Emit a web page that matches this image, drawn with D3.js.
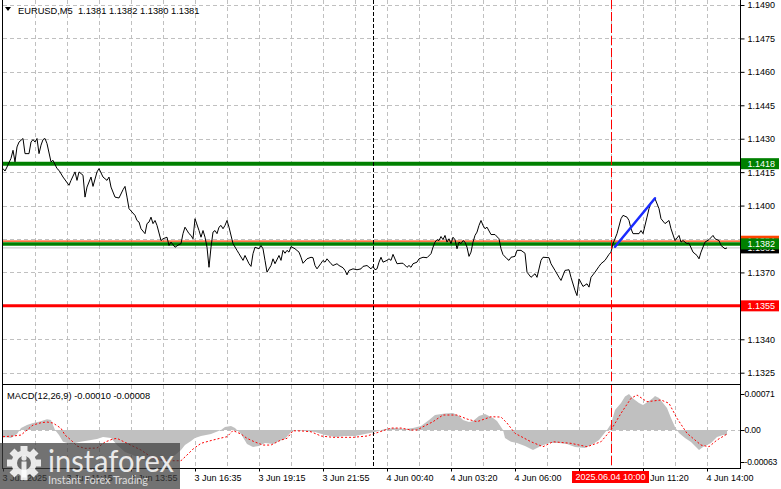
<!DOCTYPE html>
<html><head><meta charset="utf-8">
<script src="https://cdn.jsdelivr.net/npm/d3@7"></script>
<style>html,body{margin:0;padding:0;background:#fff;overflow:hidden}svg{display:block}</style>
</head><body>
<script>
// ---------------- DATA ----------------
const symbolTitle = "EURUSD,M5";
const ohlc = [1.1381, 1.1382, 1.1380, 1.1381];
const macdTitle = "MACD(12,26,9)";
const macdLast = [-0.00010, -0.00008];

const priceTicks = [1.1490,1.1475,1.1460,1.1445,1.1430,1.1415,1.1400,1.1385,1.1370,1.1355,1.1340,1.1325];
const timeTickBars = [0,32,64,96,128,160,192,224,256,288,320,352];
const timeLabels = ["3 Jun 2025","3 Jun 11:15","3 Jun 13:55","3 Jun 16:35","3 Jun 19:15","3 Jun 21:55","4 Jun 00:40","4 Jun 03:20","4 Jun 06:00","4 Jun 08:40","4 Jun 11:20","4 Jun 14:00"];
const macdTicks = [0.00071, 0, -0.00063];
const macdTickLabels = ["0.00071","0.00","-0.00063"];

const greenLevels = [1.14188, 1.13828];
const greenLabels = ["1.1418", "1.1382"];
const redLevel = 1.1355, redLabel = "1.1355";
const orangeLevel = 1.1384, orangeLabel = "1.1384";
const bidLevel = 1.1381, bidLabel = "1.1381";
const separatorBar = 185;
const eventBar = 304, eventLabel = "2025.06.04 10:00";
const trendBars = [306, 326];
const trendPrices = [1.13815, 1.14033];

// [bar index (5-minute bars from 3 Jun 08:35), close]
const closes = [[0,1.14166],[1,1.14155],[2,1.14173],[4,1.14212],[5,1.14248],[6,1.14196],[7,1.14263],[8,1.14285],[10,1.14301],[11,1.14233],[13,1.14233],[14,1.14285],[15,1.14296],[16,1.14285],[17,1.14301],[18,1.14233],[19,1.14271],[20,1.14296],[21,1.14301],[22,1.14278],[24,1.14196],[25,1.14203],[27,1.14166],[28,1.14158],[30,1.14128],[33,1.14091],[34,1.14113],[36,1.14151],[37,1.14113],[38,1.14151],[40,1.14136],[41,1.14038],[42,1.14083],[44,1.14128],[45,1.14086],[47,1.14151],[48,1.14166],[50,1.14128],[52,1.14113],[53,1.14128],[54,1.14083],[56,1.14038],[58,1.14034],[60,1.14071],[61,1.14086],[62,1.14038],[63,1.13986],[66,1.13956],[67,1.13933],[68,1.13926],[69,1.13896],[71,1.13874],[72,1.13919],[73,1.13926],[74,1.13948],[75,1.13919],[76,1.13933],[77,1.13911],[79,1.13843],[80,1.13851],[82,1.13858],[83,1.13821],[84,1.13836],[86,1.13813],[88,1.13825],[89,1.13829],[90,1.13874],[91,1.13903],[93,1.13874],[94,1.13866],[95,1.13851],[96,1.13941],[98,1.13888],[99,1.13858],[100,1.13888],[101,1.13858],[102,1.13813],[103,1.13723],[104,1.13813],[105,1.13881],[106,1.13888],[107,1.13874],[108,1.13903],[109,1.13911],[110,1.13896],[111,1.13911],[112,1.13933],[113,1.13903],[115,1.13829],[117,1.13799],[118,1.13784],[120,1.13754],[121,1.13776],[123,1.13739],[124,1.13727],[125,1.13784],[126,1.13813],[128,1.13806],[129,1.13821],[130,1.13806],[131,1.13754],[132,1.13701],[134,1.13731],[135,1.13761],[136,1.13739],[138,1.13776],[139,1.13754],[140,1.13799],[141,1.13786],[142,1.13799],[143,1.13791],[144,1.13816],[146,1.13806],[148,1.13791],[149,1.13768],[150,1.13741],[152,1.13761],[154,1.13768],[155,1.13766],[156,1.13731],[157,1.13716],[159,1.13741],[160,1.13754],[161,1.13746],[162,1.13761],[164,1.13739],[165,1.13731],[167,1.13739],[168,1.13731],[170,1.13721],[171,1.13709],[172,1.13689],[173,1.13709],[175,1.13716],[177,1.13712],[179,1.13716],[180,1.13727],[182,1.13731],[184,1.13716],[185,1.13727],[186,1.13712],[187,1.13716],[188,1.13746],[189,1.13768],[190,1.13746],[192,1.13754],[193,1.13761],[194,1.13754],[195,1.13781],[197,1.13739],[199,1.13741],[200,1.13741],[202,1.13723],[203,1.13731],[204,1.13723],[205,1.13739],[207,1.13746],[208,1.13761],[210,1.13768],[212,1.13766],[214,1.13784],[215,1.13813],[216,1.13836],[217,1.13847],[218,1.13843],[219,1.13861],[220,1.13847],[221,1.13866],[222,1.13836],[223,1.13851],[224,1.13829],[225,1.13858],[226,1.13847],[227,1.13806],[228,1.13836],[229,1.13829],[230,1.13843],[231,1.13836],[232,1.13813],[233,1.13772],[234,1.13791],[235,1.13836],[236,1.13866],[237,1.13881],[238,1.13911],[239,1.13933],[240,1.13911],[241,1.13896],[242,1.13903],[244,1.13870],[246,1.13870],[248,1.13851],[249,1.13806],[250,1.13780],[252,1.13761],[253,1.13754],[254,1.13768],[256,1.13772],[257,1.13799],[259,1.13799],[261,1.13786],[262,1.13701],[264,1.13678],[266,1.13694],[267,1.13678],[269,1.13754],[270,1.13768],[273,1.13766],[274,1.13739],[276,1.13709],[278,1.13678],[279,1.13664],[281,1.13709],[283,1.13712],[284,1.13678],[286,1.13619],[287,1.13596],[288,1.13671],[290,1.13637],[292,1.13649],[293,1.13634],[294,1.13678],[296,1.13701],[298,1.13727],[299,1.13739],[301,1.13754],[303,1.13781],[304,1.13791],[305,1.13829],[307,1.13874],[309,1.13941],[310,1.13956],[312,1.13948],[313,1.13933],[314,1.13896],[315,1.13874],[318,1.13874],[319,1.13888],[320,1.13874],[322,1.13948],[323,1.13986],[324,1.14016],[326,1.14031],[328,1.13986],[329,1.13941],[331,1.13919],[333,1.13933],[334,1.13896],[336,1.13843],[338,1.13866],[339,1.13836],[340,1.13843],[342,1.13829],[343,1.13831],[345,1.13791],[347,1.13776],[348,1.13761],[349,1.13791],[351,1.13836],[353,1.13847],[355,1.13866],[356,1.13851],[358,1.13843],[359,1.13821],[361,1.13806],[362,1.13810]];

// MACD main (histogram) [bar, value]
const macdMain = [[0,-0.000138],[4,-0.000158],[7,-0.000079],[9,0.000039],[12,0.000099],[15,0.000138],[18,0.000164],[22,0.000211],[24,0.000197],[26,0],[28,-0.000099],[30,-0.000231],[34,-0.000276],[38,-0.000237],[44,-0.000197],[47,-0.000177],[50,-0.000138],[54,-0.000158],[57,-0.000296],[61,-0.000434],[66,-0.000513],[71,-0.00060],[76,-0.00063],[81,-0.00060],[86,-0.000493],[89,-0.000394],[91,-0.000296],[94,-0.000217],[96,-0.000158],[99,-0.000118],[104,-0.000079],[109,0],[111,0.000059],[114,0.000079],[116,0.000039],[119,-0.000079],[122,-0.000276],[125,-0.000335],[128,-0.000316],[131,-0.000256],[135,-0.000276],[138,-0.000217],[141,-0.000177],[144,-0.000039],[147,0],[151,-0.000020],[156,-0.000039],[161,-0.000099],[166,-0.000138],[171,-0.000118],[176,-0.000118],[181,-0.000079],[186,-0.000039],[191,0.000020],[196,0.000039],[201,0.000020],[205,0.000039],[209,0.000079],[213,0.000197],[216,0.000296],[221,0.000325],[225,0.000335],[228,0.000276],[230,0.000197],[233,0.000158],[235,0.000177],[238,0.000276],[241,0.000316],[245,0.000237],[247,0.000177],[250,0],[251,-0.000158],[254,-0.000231],[257,-0.000256],[261,-0.000316],[265,-0.000394],[269,-0.000316],[273,-0.000256],[278,-0.000256],[282,-0.000276],[286,-0.000335],[291,-0.000355],[295,-0.000276],[298,-0.000197],[300,-0.000099],[302,0],[304,0.000118],[306,0.000394],[309,0.000532],[311,0.00066],[313,0.00071],[315,0.00062],[318,0.000532],[320,0.000493],[323,0.000572],[325,0.000631],[326,0.00067],[328,0.000631],[330,0.000532],[332,0.000434],[334,0.000237],[336,0.000059],[338,-0.000059],[341,-0.000158],[344,-0.000237],[346,-0.000316],[348,-0.000394],[350,-0.000335],[354,-0.000256],[357,-0.000138],[360,-0.000099],[362,-0.00010]];

// MACD signal [bar, value]
const macdSignal = [[0,-0.000132],[5,-0.000118],[9,-0.000099],[12,0],[15,0.000099],[19,0.000144],[22,0.000158],[25,0.000138],[29,0.000034],[31,-0.000099],[34,-0.000197],[37,-0.000316],[41,-0.000361],[47,-0.000355],[51,-0.000237],[55,-0.000177],[57,-0.000164],[62,-0.000262],[69,-0.000394],[75,-0.000558],[82,-0.000605],[89,-0.000605],[92,-0.000493],[95,-0.000375],[99,-0.000262],[105,-0.000197],[109,-0.000158],[112,-0.000132],[115,-0.00001],[119,-0.000079],[122,-0.000164],[126,-0.000237],[130,-0.000296],[134,-0.000296],[139,-0.000197],[142,-0.000164],[145,-0.000014],[150,-0.000020],[154,-0.000034],[159,-0.000118],[165,-0.000144],[175,-0.000144],[182,-0.000118],[187,-0.000053],[194,0.000039],[199,0.000039],[204,0],[207,0],[210,0.000065],[215,0.000164],[220,0.000296],[227,0.000296],[232,0.000217],[237,0.000164],[244,0.000262],[249,0.000256],[252,0.000138],[256,-0.000065],[264,-0.000231],[270,-0.000329],[275,-0.000231],[284,-0.000262],[292,-0.000329],[299,-0.000231],[304,0],[309,0.000329],[314,0.000625],[317,0.00069],[322,0.000558],[329,0.000592],[333,0.000527],[337,0.000231],[342,-0.000065],[349,-0.000296],[353,-0.000329],[357,-0.000197],[362,-0.00008]];

// ---------------- CHART ----------------
const W = 781, H = 489;
const FONT = "'Liberation Sans', Arial, sans-serif";
const L = 3, R = 740, mainBot = 384, macdBot = 468;

const svg = d3.select("body").append("svg").attr("width", W).attr("height", H)
  .style("font-family", FONT);

const x = d3.scaleLinear().domain([0, 1]).range([3, 5]);           // 2 px per bar
const yP = d3.scaleLinear().domain([1.1325, 1.1490]).range([372.7, 5]);
const yM = d3.scaleLinear().domain([-0.00063, 0.00071]).range([462, 394]);

const defs = svg.append("defs");
defs.append("clipPath").attr("id", "clipMain").append("rect")
  .attr("x", L).attr("y", 0).attr("width", R - L).attr("height", mainBot);
defs.append("clipPath").attr("id", "clipMacd").append("rect")
  .attr("x", L).attr("y", mainBot + 1).attr("width", R - L).attr("height", macdBot - mainBot - 1);

const px = v => Math.round(v) + 0.5;

// vertical grid
const gridBars = d3.range(16, 353, 16);
svg.append("g").selectAll("line").data(gridBars).join("line")
  .attr("x1", d => px(x(d))).attr("x2", d => px(x(d)))
  .attr("y1", 0).attr("y2", macdBot)
  .attr("stroke", "#c0c0c0").attr("stroke-dasharray", "4,3");

// horizontal grid in price panel
svg.append("g").selectAll("line").data(priceTicks).join("line")
  .attr("x1", L).attr("x2", R)
  .attr("y1", d => px(yP(d))).attr("y2", d => px(yP(d)))
  .attr("stroke", "#c0c0c0").attr("stroke-dasharray", "4,3");

// MACD zero level
svg.append("line").attr("x1", L).attr("x2", R)
  .attr("y1", px(yM(0))).attr("y2", px(yM(0)))
  .attr("stroke", "#c0c0c0").attr("stroke-dasharray", "4,3");

// MACD histogram + signal
const gM = svg.append("g").attr("clip-path", "url(#clipMacd)");
gM.append("path").datum(macdMain)
  .attr("d", d3.area().x(d => x(d[0])).y0(yM(0)).y1(d => yM(d[1])))
  .attr("fill", "#c0c0c0");
gM.append("path").datum(macdSignal)
  .attr("d", d3.line().x(d => x(d[0])).y(d => yM(d[1])))
  .attr("fill", "none").attr("stroke", "#ff0000").attr("stroke-width", 1)
  .attr("stroke-dasharray", "2,2");

// horizontal level lines
const gP = svg.append("g").attr("clip-path", "url(#clipMain)");
gP.append("line").attr("x1", L).attr("x2", R)
  .attr("y1", yP(bidLevel)).attr("y2", yP(bidLevel))
  .attr("stroke", "#c0c0c0").attr("stroke-width", 1);
gP.append("line").attr("x1", L).attr("x2", R)
  .attr("y1", yP(orangeLevel)).attr("y2", yP(orangeLevel))
  .attr("stroke", "#ff4500").attr("stroke-width", 1.2);
gP.selectAll(".gl").data(greenLevels).join("line").attr("class", "gl")
  .attr("x1", L).attr("x2", R)
  .attr("y1", d => yP(d)).attr("y2", d => yP(d))
  .attr("stroke", "#008000").attr("stroke-width", (d, i) => i === 0 ? 4 : 3.5);
gP.append("line").attr("x1", L).attr("x2", R)
  .attr("y1", yP(redLevel)).attr("y2", yP(redLevel))
  .attr("stroke", "#ff0000").attr("stroke-width", 3);

// price line
gP.append("path").datum(closes)
  .attr("d", d3.line().x(d => x(d[0])).y(d => yP(d[1])))
  .attr("fill", "none").attr("stroke", "#000").attr("stroke-width", 1);

// trend line
gP.append("line")
  .attr("x1", x(trendBars[0])).attr("y1", yP(trendPrices[0]))
  .attr("x2", x(trendBars[1])).attr("y2", yP(trendPrices[1]))
  .attr("stroke", "#1a2cff").attr("stroke-width", 2.5).attr("stroke-linecap", "round");

// vertical lines
svg.append("line").attr("x1", px(x(separatorBar))).attr("x2", px(x(separatorBar)))
  .attr("y1", 0).attr("y2", macdBot).attr("stroke", "#000").attr("stroke-dasharray", "4,2");
svg.append("line").attr("x1", px(x(eventBar))).attr("x2", px(x(eventBar)))
  .attr("y1", 0).attr("y2", macdBot).attr("stroke", "#ff0000").attr("stroke-dasharray", "9,3");

// frame
const frame = svg.append("g").attr("stroke", "#000").attr("stroke-width", 1);
frame.append("line").attr("x1", 2.5).attr("x2", 2.5).attr("y1", 0).attr("y2", macdBot + 0.5);
frame.append("line").attr("x1", R + 0.5).attr("x2", R + 0.5).attr("y1", 0).attr("y2", macdBot + 0.5);
frame.append("line").attr("x1", 2).attr("x2", R + 1).attr("y1", mainBot + 0.5).attr("y2", mainBot + 0.5);
frame.append("line").attr("x1", 2).attr("x2", R + 1).attr("y1", macdBot + 0.5).attr("y2", macdBot + 0.5);

// price axis
const ay = svg.append("g").attr("transform", `translate(${R + 0.5},0)`)
  .call(d3.axisRight(yP).tickValues(priceTicks).tickFormat(d3.format(".4f")).tickSize(4).tickPadding(3));
ay.select(".domain").remove();
ay.attr("font-family", FONT).attr("font-size", 9);
ay.selectAll("line").attr("stroke", "#000");
ay.selectAll("text").attr("fill", "#000");

// MACD axis
const am = svg.append("g").attr("transform", `translate(${R + 0.5},0)`)
  .call(d3.axisRight(yM).tickValues(macdTicks).tickFormat((d, i) => macdTickLabels[i]).tickSize(4).tickPadding(0));
am.select(".domain").remove();
am.attr("font-family", FONT).attr("font-size", 8.6);
am.selectAll("line").attr("stroke", "#000");
am.selectAll("text").attr("fill", "#000").attr("letter-spacing", "-0.15");

// price label boxes
function priceBox(v, label, fill, tfill) {
  const yy = yP(v);
  const g = svg.append("g");
  g.append("rect").attr("x", R + 1).attr("y", yy - 5.5).attr("width", 38).attr("height", 11).attr("fill", fill);
  g.append("text").attr("x", R + 7.5).attr("y", yy).attr("dy", "0.35em")
    .attr("font-size", 9).attr("fill", tfill).text(label);
}
priceBox(bidLevel, bidLabel, "#000000", "#ffffff");
priceBox(orangeLevel, orangeLabel, "#ff4500", "#ffffff");
priceBox(greenLevels[1], greenLabels[1], "#008000", "#ffffff");
priceBox(greenLevels[0], greenLabels[0], "#008000", "#ffffff");
priceBox(redLevel, redLabel, "#ff0000", "#ffffff");

// time axis
const ax = svg.append("g").attr("transform", `translate(0,${macdBot + 0.5})`)
  .call(d3.axisBottom(x).tickValues(timeTickBars).tickFormat((d, i) => timeLabels[i]).tickSize(3).tickPadding(3));
ax.select(".domain").remove();
ax.attr("font-family", FONT).attr("font-size", 9);
ax.selectAll("line").attr("stroke", "#000");
ax.selectAll("text").attr("fill", "#000").attr("text-anchor", "start").attr("x", -1);

// event label on time axis
const ex = x(eventBar);
svg.append("rect").attr("x", ex - 39).attr("y", 471).attr("width", 77).attr("height", 12).attr("fill", "#ff0000");
svg.append("text").attr("x", ex - 0.5).attr("y", 477).attr("dy", "0.35em").attr("text-anchor", "middle")
  .attr("font-size", 9).attr("fill", "#fff").text(eventLabel);

// titles
svg.append("path").attr("d", "M5,7 L11,7 L8,11 Z").attr("fill", "#000");
svg.append("text").attr("x", 18).attr("y", 14).attr("font-size", 9.3).attr("fill", "#000")
  .attr("xml:space", "preserve")
  .text(symbolTitle + "  " + ohlc.map(d => d.toFixed(4)).join(" "));
svg.append("text").attr("x", 7).attr("y", 398.5).attr("font-size", 9.3).attr("fill", "#000")
  .text(macdTitle + " " + macdLast.map(d => d.toFixed(5)).join(" "));

// watermark
const wm = svg.append("g");
wm.append("rect").attr("x", 0).attr("y", 443).attr("width", 180).attr("height", 46)
  .attr("fill", "#3c3c3c").attr("opacity", 0.72);
const gear = wm.append("g").attr("transform", "translate(24,463)").attr("fill", "#ffffff").attr("opacity", 0.85);
d3.range(8).forEach(k => {
  gear.append("rect").attr("x", -3.5).attr("y", -17).attr("width", 7).attr("height", 8)
    .attr("transform", `rotate(${k * 45})`);
});
gear.append("circle").attr("r", 12.5);
wm.append("circle").attr("cx", 24).attr("cy", 463).attr("r", 7).attr("fill", "#6a6a6a");
wm.append("circle").attr("cx", 24).attr("cy", 458).attr("r", 2.6).attr("fill", "#ffffff").attr("opacity", 0.85);
wm.append("rect").attr("x", 21.5).attr("y", 461.5).attr("width", 5).attr("height", 16).attr("fill", "#ffffff").attr("opacity", 0.85);
wm.append("text").attr("x", 48).attr("y", 471.5).attr("font-family", "Lato, 'Open Sans', sans-serif")
  .attr("font-size", 31).attr("textLength", 126).attr("lengthAdjust", "spacingAndGlyphs")
  .attr("fill", "#ffffff").attr("opacity", 0.85).text("instaforex");
wm.append("text").attr("x", 48).attr("y", 484).attr("font-family", "Lato, 'Open Sans', sans-serif")
  .attr("font-size", 11).attr("textLength", 100).attr("lengthAdjust", "spacingAndGlyphs")
  .attr("fill", "#ffffff").attr("opacity", 0.75).text("Instant Forex Trading");
</script>
</body></html>
